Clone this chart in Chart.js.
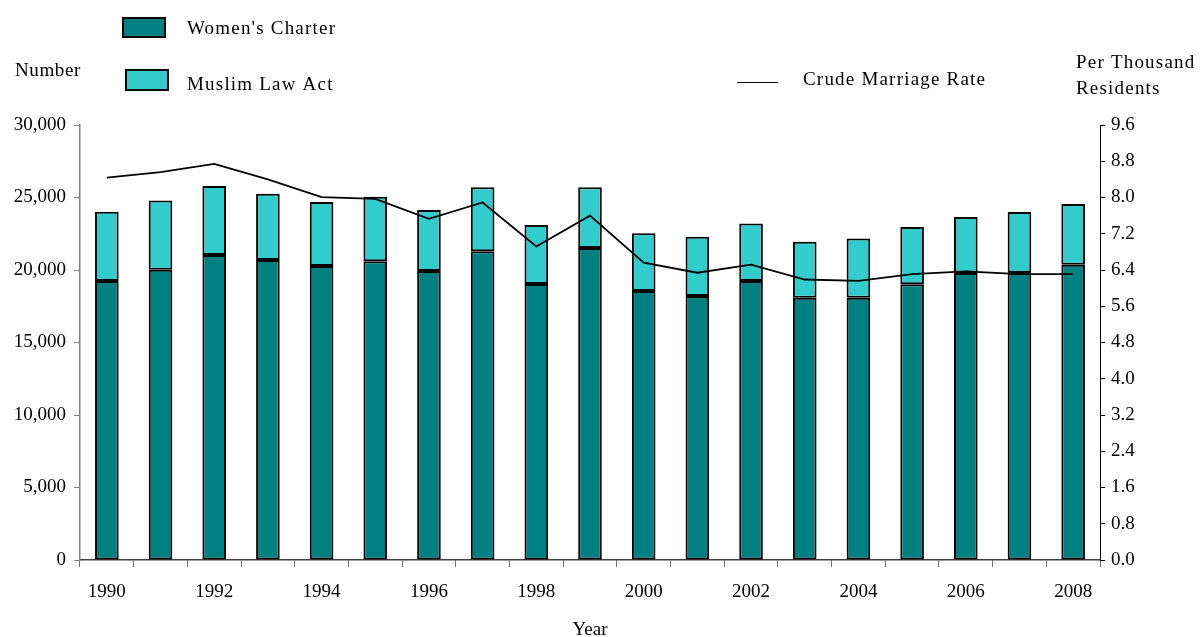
<!DOCTYPE html>
<html>
<head>
<meta charset="utf-8">
<script src="https://cdn.jsdelivr.net/npm/chart.js@4/dist/chart.umd.min.js"></script>
<style>
  html, body { margin: 0; padding: 0; background: #fff; }
  canvas { display: block; }
</style>
</head>
<body>
<canvas id="chart" width="1202" height="637"></canvas>
<script>
const years = ["1990", "1991", "1992", "1993", "1994", "1995", "1996", "1997", "1998", "1999",
  "2000", "2001", "2002", "2003", "2004", "2005", "2006", "2007", "2008"];
const womensCharter = [19240, 20020, 21030, 20690, 20280, 20600, 19930, 21290, 19030, 21520,
  18550, 18200, 19240, 18090, 18090, 19010, 19790, 19790, 20370];
const muslimLawAct = [4780, 4780, 4770, 4570, 4410, 4460, 4210, 4410, 4070, 4180,
  3980, 4100, 3960, 3860, 4090, 3960, 3870, 4210, 4180];
const crudeMarriageRate = [8.44, 8.56, 8.74, 8.40, 8.01, 7.97, 7.53, 7.89, 6.92, 7.60,
  6.56, 6.34, 6.52, 6.19, 6.16, 6.31, 6.37, 6.31, 6.31];
const numberTicks = [0, 5000, 10000, 15000, 20000, 25000, 30000];
const rateTicks = [0, 0.8, 1.6, 2.4, 3.2, 4.0, 4.8, 5.6, 6.4, 7.2, 8.0, 8.8, 9.6];

const serif = "'Liberation Serif', 'Times New Roman', serif";
const tickFont = { family: serif, size: 19 };

// legend and axis captions sit in odd places, so draw them by hand
const captions = {
  id: "captions",
  afterDraw(chart) {
    const ctx = chart.ctx;
    const ds = chart.data.datasets;
    ctx.save();
    ctx.font = "19px " + serif;
    ctx.textBaseline = "middle";
    ctx.textAlign = "left";

    ctx.lineWidth = 2;
    ctx.strokeStyle = "#000";
    ctx.fillStyle = ds[0].backgroundColor;
    ctx.fillRect(123, 18, 42, 19);
    ctx.strokeRect(123, 18, 42, 19);
    ctx.fillStyle = ds[1].backgroundColor;
    ctx.fillRect(126, 70, 42, 20);
    ctx.strokeRect(126, 70, 42, 20);

    ctx.lineWidth = 1;
    ctx.beginPath();
    ctx.moveTo(737, 82.5);
    ctx.lineTo(778, 82.5);
    ctx.stroke();

    ctx.fillStyle = "#000";
    ctx.letterSpacing = "1.2px";
    ctx.fillText(ds[0].label, 187, 29);
    ctx.fillText(ds[1].label, 187, 85);
    ctx.fillText(ds[2].label, 803, 80);
    ctx.letterSpacing = "0.6px";
    ctx.fillText("Number", 15, 71);
    ctx.letterSpacing = "1.2px";
    ctx.fillText("Per Thousand", 1076, 63);
    ctx.fillText("Residents", 1076, 89);
    ctx.restore();
  }
};

new Chart(document.getElementById("chart"), {
  type: "bar",
  data: {
    labels: years,
    datasets: [
      {
        label: "Women's Charter",
        data: womensCharter,
        backgroundColor: "#008080",
        borderColor: "#000",
        borderWidth: 2,
        borderSkipped: false,
        yAxisID: "y",
        stack: "marriages",
        order: 1
      },
      {
        label: "Muslim Law Act",
        data: muslimLawAct,
        backgroundColor: "#33CCCC",
        borderColor: "#000",
        borderWidth: 2,
        borderSkipped: false,
        yAxisID: "y",
        stack: "marriages",
        order: 2
      },
      {
        type: "line",
        label: "Crude Marriage Rate",
        data: crudeMarriageRate,
        borderColor: "#000",
        borderWidth: 1.8,
        pointRadius: 0,
        tension: 0,
        fill: false,
        yAxisID: "y1",
        order: 0
      }
    ]
  },
  options: {
    responsive: false,
    animation: false,
    layout: { padding: { top: 125 } },
    datasets: { bar: { barPercentage: 0.44, categoryPercentage: 1 } },
    plugins: {
      legend: { display: false },
      tooltip: { enabled: false }
    },
    scales: {
      x: {
        stacked: true,
        offset: true,
        afterFit: (axis) => { axis.height = 77; },
        grid: { offset: true, drawOnChartArea: false, tickLength: 7, color: "#707070" },
        border: { display: true, color: "#404040", width: 1.5 },
        ticks: {
          autoSkip: false,
          maxRotation: 0,
          padding: 14,
          color: "#000",
          font: tickFont,
          callback: (v, i) => (i % 2 === 0 ? years[i] : "")
        },
        title: {
          display: true,
          text: "Year",
          color: "#000",
          font: tickFont,
          padding: { top: 0, bottom: -4 }
        }
      },
      y: {
        stacked: true,
        position: "left",
        min: 0,
        max: 30000,
        afterFit: (axis) => { axis.width = 80; },
        afterBuildTicks: (axis) => { axis.ticks = numberTicks.map((v) => ({ value: v })); },
        grid: { drawOnChartArea: false, tickLength: 6, color: "#808080" },
        border: { display: true, color: "#808080", width: 1.5 },
        ticks: {
          padding: 8,
          color: "#000",
          font: tickFont,
          callback: (v) => v.toLocaleString("en-US")
        }
      },
      y1: {
        position: "right",
        min: 0,
        max: 9.6,
        afterFit: (axis) => { axis.width = 102; },
        afterBuildTicks: (axis) => { axis.ticks = rateTicks.map((v) => ({ value: v })); },
        grid: { drawOnChartArea: false, tickLength: 5, color: "#000" },
        border: { display: true, color: "#000", width: 1 },
        ticks: {
          padding: 6,
          color: "#000",
          font: tickFont,
          callback: (v) => Number(v).toFixed(1)
        }
      }
    }
  },
  plugins: [captions]
});
</script>
</body>
</html>
